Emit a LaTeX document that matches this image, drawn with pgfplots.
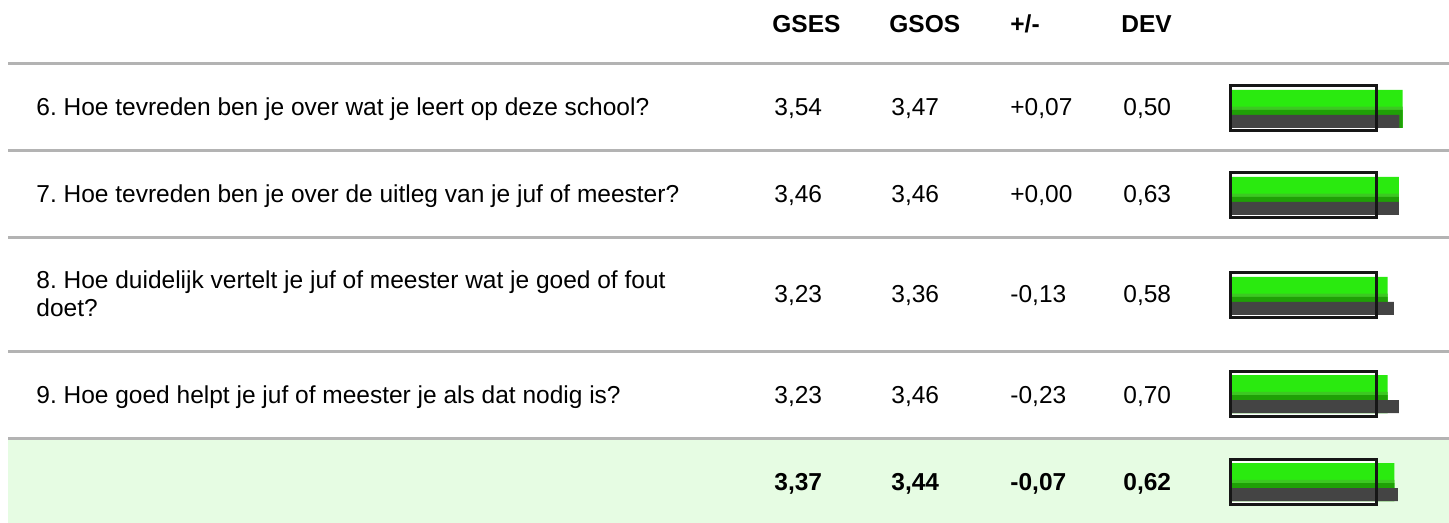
\documentclass[border=0pt]{standalone}
\usepackage{pgfplots}
\pgfplotsset{compat=1.18}
\usepackage{fontspec}
\setmainfont{Liberation Sans}
\frenchspacing
\definecolor{sep}{HTML}{B3B3B3}
\definecolor{totbg}{HTML}{E6FCE3}
\definecolor{gtop}{HTML}{2AEA0F}
\definecolor{gmid}{HTML}{3CC822}
\definecolor{gbot}{HTML}{1FA006}
\definecolor{darkbar}{HTML}{444444}
\definecolor{framec}{HTML}{161616}
\newcommand\fs{\fontsize{12.25pt}{14pt}\selectfont}
\pgfplotstableread{
y      v
108.5  3
195.5  3
295.5  3
393.5  3
481.5  3
}\frametab
\begin{document}
\begin{tikzpicture}
\begin{axis}[name=main, at={(0pt,0pt)}, anchor=south west,
  width=724.5pt, height=261.5pt, scale only axis,
  xmin=0, xmax=1449, ymin=0, ymax=523, y dir=reverse,
  hide axis, clip=false]
  \fill[totbg] (axis cs:8,438) rectangle (axis cs:1449,523);
  \pgfplotsinvokeforeach{64,151,238,351,438}{
    \draw[sep, line width=1.5pt] (axis cs:8,#1) -- (axis cs:1449,#1);
  }
  % header
  \node[anchor=base west, font=\fs\bfseries, inner sep=0pt] at (axis cs:772,33) {GSES};
  \node[anchor=base west, font=\fs\bfseries, inner sep=0pt] at (axis cs:889,33) {GSOS};
  \node[anchor=base west, font=\fs\bfseries, inner sep=0pt] at (axis cs:1010,33) {+/-};
  \node[anchor=base west, font=\fs\bfseries, inner sep=0pt] at (axis cs:1121,33) {DEV};
  % row 1
  \node[anchor=base west, font=\fs, inner sep=0pt] at (axis cs:36,116) {6. Hoe tevreden ben je over wat je leert op deze school?};
  \node[anchor=base west, font=\fs, inner sep=0pt] at (axis cs:774,116) {3,54};
  \node[anchor=base west, font=\fs, inner sep=0pt] at (axis cs:891,116) {3,47};
  \node[anchor=base west, font=\fs, inner sep=0pt] at (axis cs:1010,116) {+0,07};
  \node[anchor=base west, font=\fs, inner sep=0pt] at (axis cs:1123,116) {0,50};
  % row 2
  \node[anchor=base west, font=\fs, inner sep=0pt] at (axis cs:36,203) {7. Hoe tevreden ben je over de uitleg van je juf of meester?};
  \node[anchor=base west, font=\fs, inner sep=0pt] at (axis cs:774,203) {3,46};
  \node[anchor=base west, font=\fs, inner sep=0pt] at (axis cs:891,203) {3,46};
  \node[anchor=base west, font=\fs, inner sep=0pt] at (axis cs:1010,203) {+0,00};
  \node[anchor=base west, font=\fs, inner sep=0pt] at (axis cs:1123,203) {0,63};
  % row 3
  \node[anchor=base west, font=\fs, inner sep=0pt] at (axis cs:36,289) {8. Hoe duidelijk vertelt je juf of meester wat je goed of fout};
  \node[anchor=base west, font=\fs, inner sep=0pt] at (axis cs:36,317) {doet?};
  \node[anchor=base west, font=\fs, inner sep=0pt] at (axis cs:774,303) {3,23};
  \node[anchor=base west, font=\fs, inner sep=0pt] at (axis cs:891,303) {3,36};
  \node[anchor=base west, font=\fs, inner sep=0pt] at (axis cs:1010,303) {-0,13};
  \node[anchor=base west, font=\fs, inner sep=0pt] at (axis cs:1123,303) {0,58};
  % row 4
  \node[anchor=base west, font=\fs, inner sep=0pt] at (axis cs:36,403) {9. Hoe goed helpt je juf of meester je als dat nodig is?};
  \node[anchor=base west, font=\fs, inner sep=0pt] at (axis cs:774,403) {3,23};
  \node[anchor=base west, font=\fs, inner sep=0pt] at (axis cs:891,403) {3,46};
  \node[anchor=base west, font=\fs, inner sep=0pt] at (axis cs:1010,403) {-0,23};
  \node[anchor=base west, font=\fs, inner sep=0pt] at (axis cs:1123,403) {0,70};
  % total
  \node[anchor=base west, font=\fs\bfseries, inner sep=0pt] at (axis cs:774,490) {3,37};
  \node[anchor=base west, font=\fs\bfseries, inner sep=0pt] at (axis cs:891,490) {3,44};
  \node[anchor=base west, font=\fs\bfseries, inner sep=0pt] at (axis cs:1010,490) {-0,07};
  \node[anchor=base west, font=\fs\bfseries, inner sep=0pt] at (axis cs:1123,490) {0,62};
\end{axis}
\begin{axis}[at={(615pt,0pt)}, anchor=south west,
  width=109.5pt, height=261.5pt, scale only axis,
  xmin=0, xmax=4.49, ymin=0, ymax=523, y dir=reverse,
  hide axis, clip=false]
  % white box behind bars (reference value 3)
  \addplot[xbar, bar shift=0pt, bar width=22.5pt, fill=white, draw=none]
    table[x=v, y=y] {\frametab};
  % GSES: bright band, medium band, dark band (same values)
  \addplot[xbar, bar shift=0pt, bar width=19pt, draw=none, fill=gtop]
    coordinates {(3.54,109) (3.46,196) (3.23,296) (3.23,394) (3.37,482)};
  \addplot[xbar, bar shift=0pt, bar width=10.5pt, draw=none, fill=gmid]
    coordinates {(3.54,117.25) (3.46,204.25) (3.23,304.25) (3.23,402.25) (3.37,490.25)};
  \addplot[xbar, bar shift=0pt, bar width=9pt, draw=none, fill=gbot]
    coordinates {(3.54,119) (3.46,206) (3.23,306) (3.23,404) (3.37,492)};
  % GSOS
  \addplot[xbar, bar shift=0pt, bar width=6.5pt, draw=none, fill=darkbar]
    coordinates {(3.47,121.5) (3.46,208.5) (3.36,308.5) (3.46,406.5) (3.44,494.5)};
  % frame
  \addplot[xbar, bar shift=0pt, bar width=22.5pt, fill=none, draw=framec, line width=1.5pt]
    table[x=v, y=y] {\frametab};
\end{axis}
\pgfresetboundingbox
\path[use as bounding box] (main.south west) rectangle (main.north east);
\end{tikzpicture}
\end{document}
